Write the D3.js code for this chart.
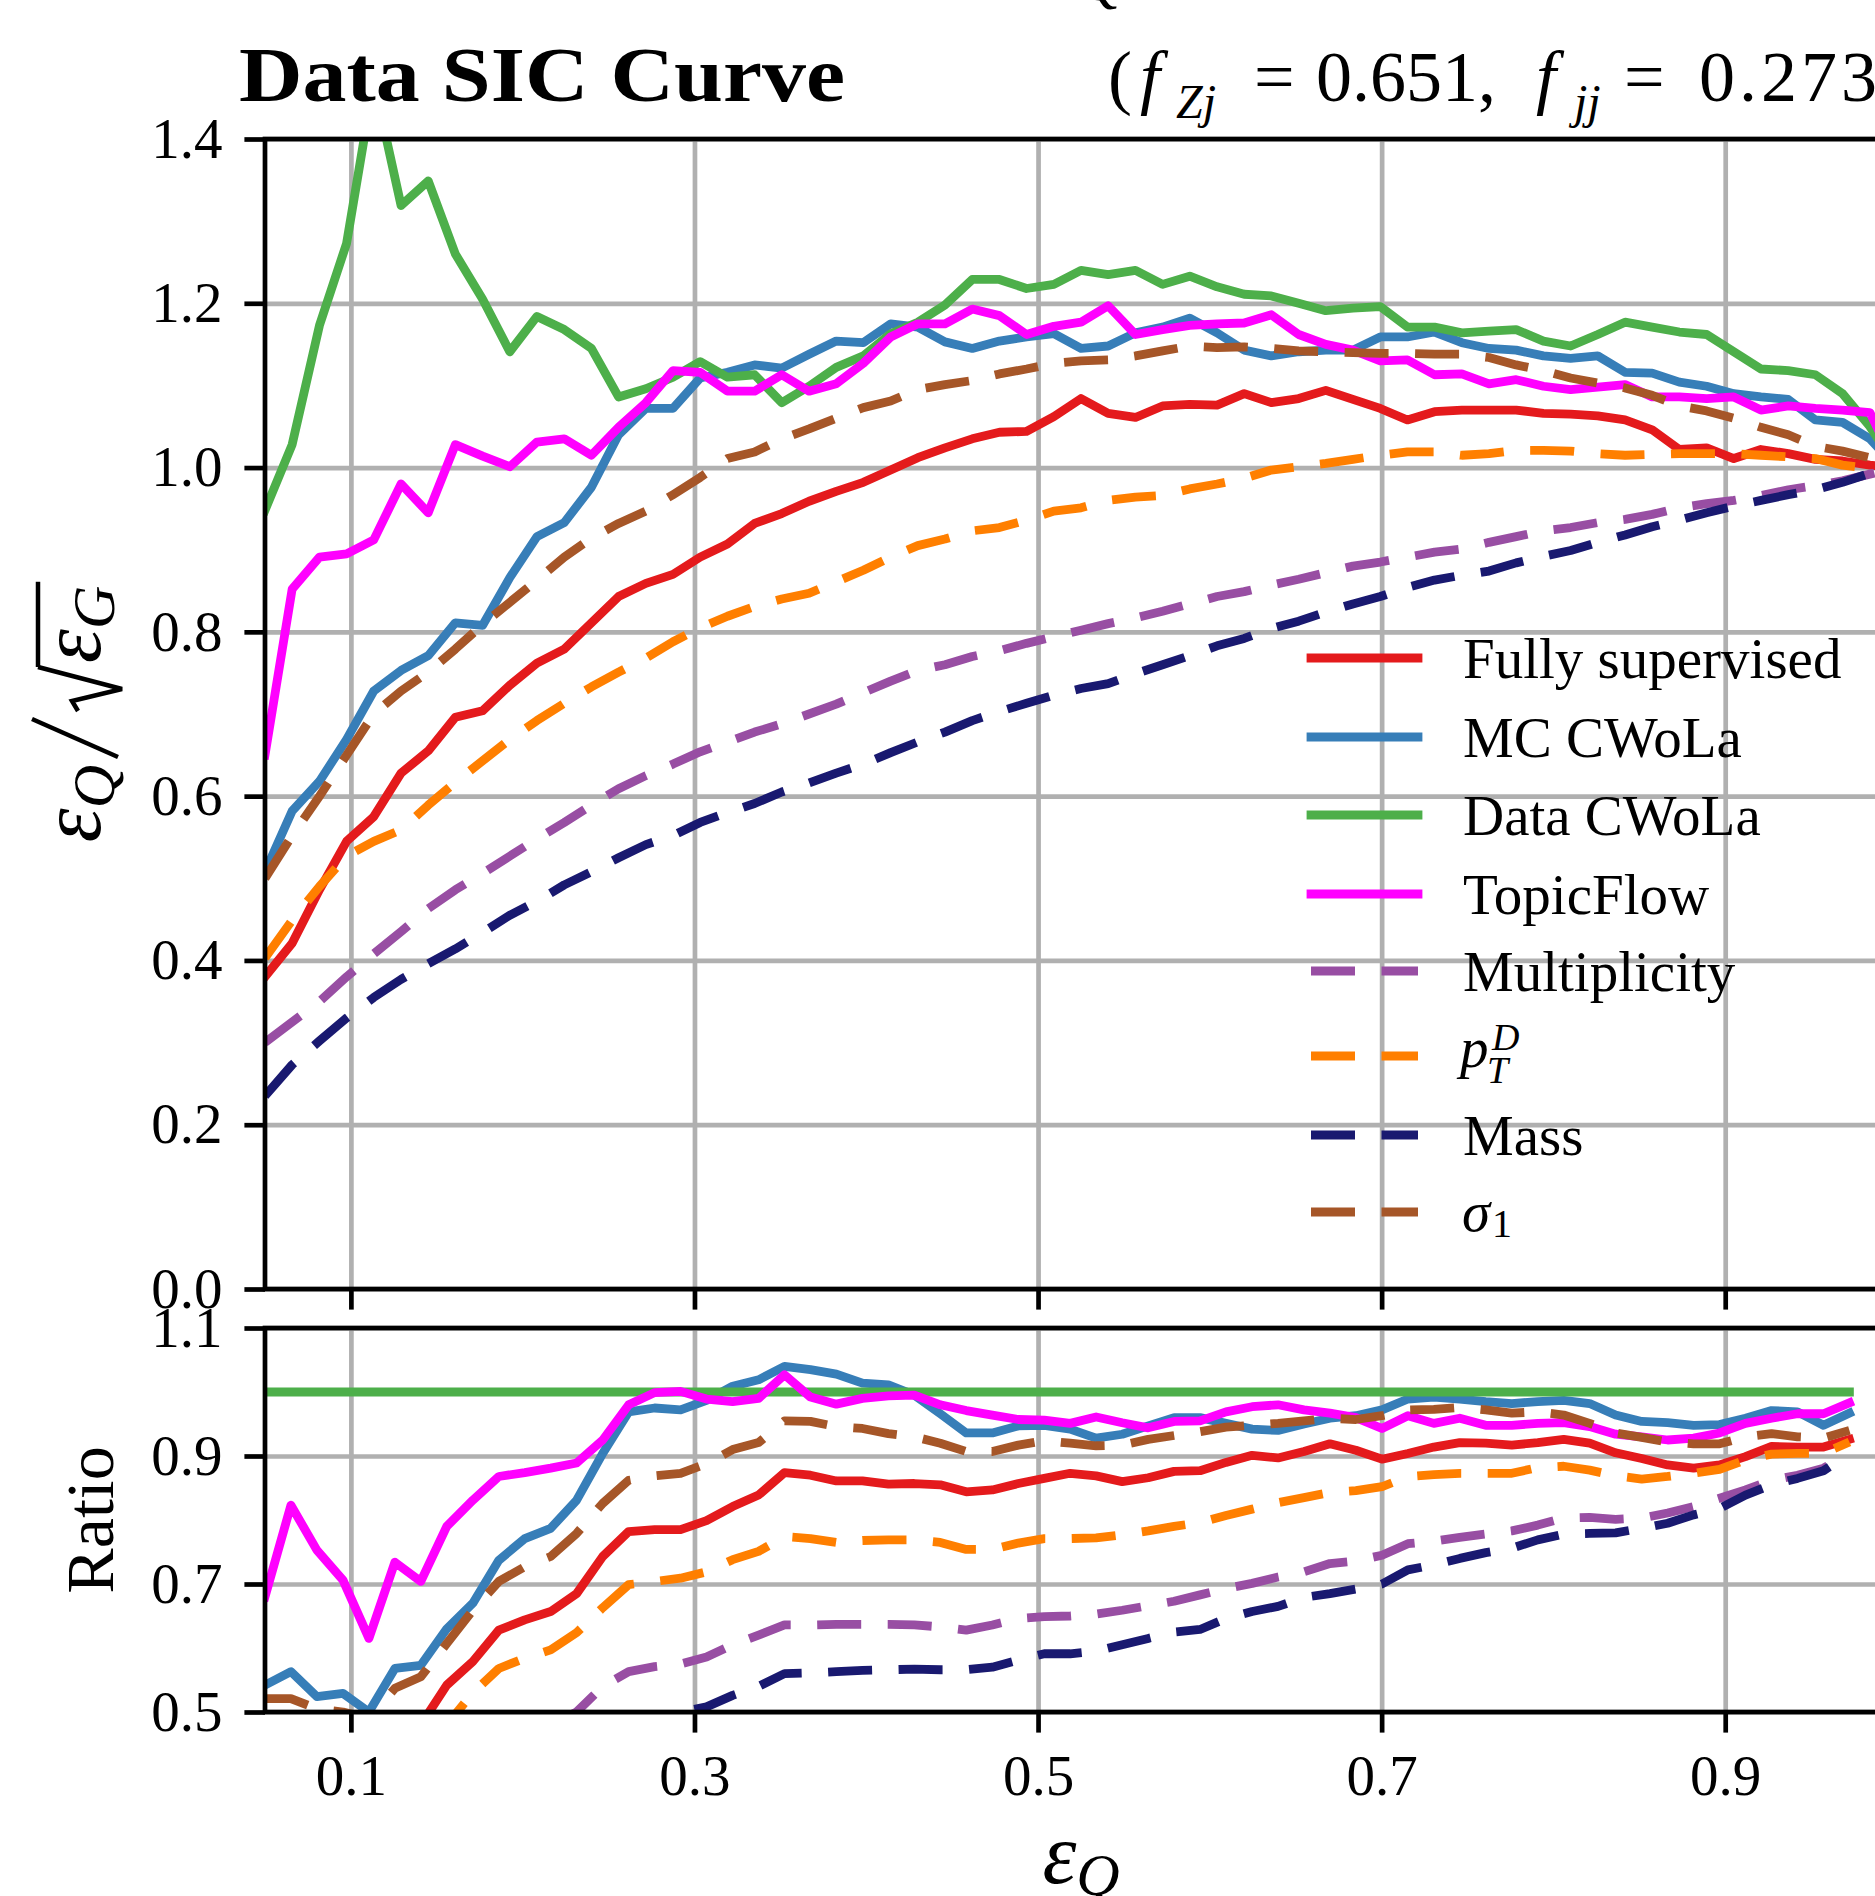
<!DOCTYPE html>
<html lang="en">
<head>
<meta charset="UTF-8" />
<title>Data SIC Curve</title>
<script src="https://cdn.jsdelivr.net/npm/d3@7/dist/d3.min.js"></script>
<style>
  body { margin: 0; background: #fff; }
  svg { display: block; }
</style>
</head>
<body>
<svg width="1875" height="1896"></svg>
<script>
// eps_Q values where the SIC curves were evaluated
var epsMain = [0.0500, 0.0658, 0.0817, 0.0975, 0.1133, 0.1292, 0.1450, 0.1608, 0.1767, 0.1925,
  0.2083, 0.2242, 0.2400, 0.2558, 0.2717, 0.2875, 0.3033, 0.3192, 0.3350, 0.3508,
  0.3667, 0.3825, 0.3983, 0.4142, 0.4300, 0.4458, 0.4617, 0.4775, 0.4933, 0.5092,
  0.5250, 0.5408, 0.5567, 0.5725, 0.5883, 0.6042, 0.6200, 0.6358, 0.6517, 0.6675,
  0.6833, 0.6992, 0.7150, 0.7308, 0.7467, 0.7625, 0.7783, 0.7942, 0.8100, 0.8258,
  0.8417, 0.8575, 0.8733, 0.8892, 0.9050, 0.9208, 0.9367, 0.9525, 0.9683, 0.9842, 1.0000];

// eps_Q values of the ratio panel
var epsRatio = [0.0500, 0.0651, 0.0802, 0.0954, 0.1105, 0.1256, 0.1407, 0.1558, 0.1710, 0.1861,
  0.2012, 0.2163, 0.2314, 0.2466, 0.2617, 0.2768, 0.2919, 0.3070, 0.3222, 0.3373,
  0.3524, 0.3675, 0.3826, 0.3978, 0.4129, 0.4280, 0.4431, 0.4582, 0.4734, 0.4885,
  0.5036, 0.5187, 0.5338, 0.5490, 0.5641, 0.5792, 0.5943, 0.6094, 0.6246, 0.6397,
  0.6548, 0.6699, 0.6850, 0.7002, 0.7153, 0.7304, 0.7455, 0.7606, 0.7758, 0.7909,
  0.8060, 0.8211, 0.8362, 0.8514, 0.8665, 0.8816, 0.8967, 0.9118, 0.9270, 0.9421,
  0.9572, 0.9723];

// SIC = eps_Q / sqrt(eps_G)
var fullySup = [0.380, 0.421, 0.486, 0.545, 0.575, 0.628, 0.655, 0.696, 0.704, 0.735,
  0.762, 0.779, 0.811, 0.843, 0.859, 0.870, 0.891, 0.907, 0.932, 0.944,
  0.959, 0.971, 0.982, 0.997, 1.012, 1.024, 1.035, 1.043, 1.044, 1.062,
  1.084, 1.066, 1.061, 1.075, 1.077, 1.076, 1.090, 1.079, 1.084, 1.094,
  1.083, 1.072, 1.058, 1.068, 1.070, 1.070, 1.070, 1.066, 1.065, 1.063,
  1.058, 1.046, 1.022, 1.024, 1.011, 1.022, 1.017, 1.010, 1.008, 1.003, 1.000];
var mcCwola = [0.508, 0.582, 0.618, 0.669, 0.728, 0.753, 0.771, 0.811, 0.808, 0.866,
  0.916, 0.933, 0.976, 1.040, 1.072, 1.072, 1.109, 1.116, 1.125, 1.121,
  1.138, 1.154, 1.152, 1.175, 1.171, 1.153, 1.145, 1.154, 1.159, 1.163,
  1.145, 1.148, 1.164, 1.171, 1.182, 1.164, 1.143, 1.136, 1.141, 1.143,
  1.143, 1.159, 1.159, 1.165, 1.152, 1.145, 1.143, 1.136, 1.133, 1.136,
  1.116, 1.115, 1.104, 1.099, 1.090, 1.086, 1.083, 1.058, 1.055, 1.035, 1.000];
var dataCwola = [0.948, 1.028, 1.173, 1.273, 1.470, 1.319, 1.349, 1.260, 1.205, 1.141,
  1.184, 1.168, 1.145, 1.086, 1.096, 1.110, 1.129, 1.110, 1.113, 1.079,
  1.099, 1.122, 1.136, 1.163, 1.177, 1.198, 1.229, 1.229, 1.218, 1.223,
  1.240, 1.235, 1.240, 1.223, 1.233, 1.220, 1.211, 1.209, 1.200, 1.191,
  1.194, 1.196, 1.171, 1.171, 1.164, 1.166, 1.168, 1.154, 1.148, 1.162,
  1.177, 1.171, 1.165, 1.162, 1.141, 1.120, 1.118, 1.113, 1.090, 1.050, 1.000];
var topicFlow = [0.650, 0.852, 0.891, 0.895, 0.912, 0.980, 0.945, 1.028, 1.014, 1.001,
  1.031, 1.035, 1.015, 1.049, 1.079, 1.118, 1.116, 1.093, 1.093, 1.113,
  1.093, 1.102, 1.127, 1.159, 1.175, 1.175, 1.193, 1.185, 1.162, 1.172,
  1.177, 1.197, 1.162, 1.168, 1.173, 1.175, 1.176, 1.186, 1.162, 1.150,
  1.143, 1.130, 1.131, 1.113, 1.114, 1.102, 1.107, 1.099, 1.095, 1.098,
  1.101, 1.086, 1.086, 1.084, 1.086, 1.070, 1.075, 1.072, 1.070, 1.067, 1.000];
var multiplicity = [0.300, 0.325, 0.350, 0.380, 0.408, 0.435, 0.463, 0.486, 0.506, 0.527,
  0.548, 0.568, 0.589, 0.609, 0.625, 0.639, 0.654, 0.666, 0.678, 0.688,
  0.700, 0.712, 0.726, 0.740, 0.753, 0.760, 0.770, 0.777, 0.786, 0.794,
  0.802, 0.810, 0.817, 0.825, 0.834, 0.843, 0.849, 0.857, 0.864, 0.872,
  0.880, 0.885, 0.891, 0.897, 0.901, 0.909, 0.916, 0.923, 0.927, 0.933,
  0.937, 0.943, 0.951, 0.956, 0.960, 0.966, 0.973, 0.978, 0.984, 0.992, 1.000];
var ptD = [0.403, 0.449, 0.490, 0.527, 0.545, 0.559, 0.589, 0.617, 0.643, 0.669,
  0.692, 0.713, 0.733, 0.751, 0.768, 0.788, 0.805, 0.819, 0.831, 0.840,
  0.847, 0.861, 0.875, 0.891, 0.905, 0.913, 0.923, 0.927, 0.936, 0.947,
  0.951, 0.960, 0.964, 0.966, 0.974, 0.980, 0.987, 0.997, 1.001, 1.005,
  1.010, 1.015, 1.019, 1.019, 1.015, 1.017, 1.021, 1.021, 1.020, 1.017,
  1.015, 1.016, 1.017, 1.017, 1.017, 1.015, 1.013, 1.011, 1.003, 0.999, 1.000];
var mass = [0.235, 0.273, 0.302, 0.330, 0.355, 0.377, 0.396, 0.414, 0.434, 0.455,
  0.472, 0.492, 0.508, 0.525, 0.541, 0.552, 0.568, 0.580, 0.591, 0.605,
  0.616, 0.628, 0.639, 0.653, 0.666, 0.678, 0.692, 0.703, 0.713, 0.723,
  0.731, 0.737, 0.749, 0.760, 0.771, 0.783, 0.792, 0.804, 0.813, 0.824,
  0.834, 0.843, 0.854, 0.863, 0.869, 0.874, 0.884, 0.892, 0.899, 0.909,
  0.918, 0.928, 0.936, 0.945, 0.953, 0.960, 0.967, 0.973, 0.982, 0.993, 1.000];
var sigma1 = [0.500, 0.552, 0.600, 0.650, 0.700, 0.728, 0.751, 0.779, 0.809, 0.836,
  0.863, 0.891, 0.914, 0.932, 0.947, 0.967, 0.988, 1.011, 1.019, 1.035,
  1.047, 1.060, 1.073, 1.081, 1.095, 1.101, 1.106, 1.114, 1.120, 1.127,
  1.130, 1.131, 1.136, 1.142, 1.148, 1.146, 1.147, 1.145, 1.142, 1.141,
  1.140, 1.139, 1.139, 1.138, 1.138, 1.134, 1.125, 1.118, 1.109, 1.103,
  1.097, 1.088, 1.075, 1.069, 1.060, 1.049, 1.040, 1.026, 1.020, 1.012, 1.000];

// ratio to Data CWoLa (values below 0.5 sit under the panel)
var ratioFullySup = [0.40, 0.41, 0.41, 0.43, 0.39, 0.46, 0.48, 0.542, 0.579, 0.628,
  0.644, 0.657, 0.685, 0.743, 0.782, 0.785, 0.785, 0.799, 0.821, 0.839,
  0.874, 0.870, 0.861, 0.861, 0.856, 0.857, 0.855, 0.844, 0.847, 0.857,
  0.865, 0.873, 0.869, 0.860, 0.866, 0.876, 0.877, 0.890, 0.901, 0.897,
  0.907, 0.919, 0.909, 0.895, 0.904, 0.914, 0.921, 0.920, 0.917, 0.921,
  0.926, 0.920, 0.905, 0.896, 0.886, 0.881, 0.886, 0.899, 0.915, 0.914,
  0.914, 0.926];
var ratioMcCwola = [0.542, 0.563, 0.524, 0.529, 0.500, 0.568, 0.573, 0.630, 0.670, 0.737,
  0.771, 0.787, 0.831, 0.904, 0.969, 0.975, 0.972, 0.987, 1.009, 1.019,
  1.040, 1.035, 1.028, 1.014, 1.011, 0.995, 0.966, 0.936, 0.936, 0.947,
  0.948, 0.942, 0.928, 0.934, 0.947, 0.960, 0.960, 0.951, 0.942, 0.940,
  0.950, 0.959, 0.963, 0.972, 0.989, 0.992, 0.989, 0.985, 0.982, 0.985,
  0.987, 0.982, 0.964, 0.954, 0.952, 0.948, 0.949, 0.959, 0.971, 0.969,
  0.948, 0.967];
var ratioDataCwola = [1, 1, 1, 1, 1, 1, 1, 1, 1, 1, 1, 1, 1, 1, 1, 1, 1, 1, 1, 1,
  1, 1, 1, 1, 1, 1, 1, 1, 1, 1, 1, 1, 1, 1, 1, 1, 1, 1, 1, 1,
  1, 1, 1, 1, 1, 1, 1, 1, 1, 1, 1, 1, 1, 1, 1, 1, 1, 1, 1, 1, 1, 1];
var ratioTopicFlow = [0.680, 0.823, 0.753, 0.706, 0.615, 0.734, 0.704, 0.790, 0.831, 0.868,
  0.874, 0.881, 0.889, 0.925, 0.980, 0.999, 1.001, 0.989, 0.985, 0.990,
  1.027, 0.992, 0.981, 0.990, 0.994, 0.995, 0.980, 0.971, 0.964, 0.957,
  0.956, 0.951, 0.961, 0.952, 0.944, 0.954, 0.955, 0.969, 0.977, 0.980,
  0.972, 0.967, 0.960, 0.943, 0.963, 0.951, 0.959, 0.948, 0.948, 0.951,
  0.952, 0.946, 0.934, 0.930, 0.925, 0.928, 0.936, 0.951, 0.959, 0.966,
  0.966, 0.983];
var ratioMultiplicity = [0.32, 0.32, 0.30, 0.30, 0.28, 0.33, 0.34, 0.39, 0.42, 0.46,
  0.46, 0.48, 0.500, 0.540, 0.563, 0.571, 0.575, 0.586, 0.605, 0.620,
  0.636, 0.636, 0.637, 0.637, 0.637, 0.636, 0.633, 0.628, 0.636, 0.646,
  0.649, 0.650, 0.653, 0.659, 0.666, 0.673, 0.683, 0.693, 0.701, 0.711,
  0.719, 0.732, 0.736, 0.745, 0.763, 0.767, 0.773, 0.778, 0.783, 0.792,
  0.803, 0.804, 0.801, 0.803, 0.811, 0.821, 0.834, 0.847, 0.862, 0.870,
  0.881, 0.903];
var ratioPtD = [0.42, 0.44, 0.42, 0.41, 0.37, 0.42, 0.44, 0.48, 0.530, 0.568,
  0.584, 0.597, 0.624, 0.663, 0.699, 0.704, 0.709, 0.719, 0.738, 0.751,
  0.774, 0.771, 0.765, 0.768, 0.769, 0.769, 0.765, 0.754, 0.754, 0.764,
  0.771, 0.771, 0.772, 0.777, 0.783, 0.790, 0.796, 0.807, 0.817, 0.827,
  0.835, 0.843, 0.846, 0.852, 0.868, 0.871, 0.873, 0.873, 0.873, 0.882,
  0.884, 0.878, 0.869, 0.864, 0.868, 0.873, 0.879, 0.894, 0.903, 0.904,
  0.904, 0.922];
var ratioMass = [0.25, 0.27, 0.26, 0.26, 0.24, 0.29, 0.29, 0.33, 0.36, 0.40,
  0.40, 0.42, 0.44, 0.47, 0.48, 0.49, 0.500, 0.508, 0.526, 0.540,
  0.560, 0.561, 0.563, 0.565, 0.566, 0.567, 0.566, 0.566, 0.570, 0.581,
  0.591, 0.591, 0.595, 0.605, 0.615, 0.625, 0.629, 0.646, 0.657, 0.665,
  0.679, 0.685, 0.692, 0.700, 0.722, 0.730, 0.740, 0.749, 0.756, 0.769,
  0.778, 0.779, 0.780, 0.787, 0.795, 0.808, 0.818, 0.839, 0.855, 0.865,
  0.877, 0.904];
var ratioSigma1 = [0.521, 0.521, 0.505, 0.500, 0.490, 0.537, 0.555, 0.607, 0.659, 0.704,
  0.727, 0.743, 0.779, 0.826, 0.862, 0.869, 0.873, 0.888, 0.910, 0.921,
  0.955, 0.954, 0.946, 0.943, 0.935, 0.930, 0.920, 0.907, 0.907, 0.917,
  0.924, 0.920, 0.916, 0.917, 0.926, 0.932, 0.938, 0.945, 0.948, 0.951,
  0.955, 0.959, 0.957, 0.963, 0.972, 0.973, 0.976, 0.972, 0.967, 0.969,
  0.964, 0.951, 0.936, 0.929, 0.922, 0.919, 0.919, 0.930, 0.935, 0.930,
  0.928, 0.940];

var xTicks = [0.1, 0.3, 0.5, 0.7, 0.9];
var mainYTicks = [0, 0.2, 0.4, 0.6, 0.8, 1.0, 1.2, 1.4];
var ratioYTicks = [0.5, 0.7, 0.9, 1.1];
var seriesNames = ["Fully supervised", "MC CWoLa", "Data CWoLa", "TopicFlow",
  "Multiplicity", "pTD", "Mass", "sigma1"];

var series = [
  { name: seriesNames[0], main: fullySup, ratio: ratioFullySup, color: "#e41a1c", dashed: false },
  { name: seriesNames[1], main: mcCwola, ratio: ratioMcCwola, color: "#377eb8", dashed: false },
  { name: seriesNames[2], main: dataCwola, ratio: ratioDataCwola, color: "#4daf4a", dashed: false },
  { name: seriesNames[3], main: topicFlow, ratio: ratioTopicFlow, color: "#ff00ff", dashed: false },
  { name: seriesNames[4], main: multiplicity, ratio: ratioMultiplicity, color: "#984ea3", dashed: true },
  { name: seriesNames[5], main: ptD, ratio: ratioPtD, color: "#ff7f00", dashed: true },
  { name: seriesNames[6], main: mass, ratio: ratioMass, color: "#191970", dashed: true },
  { name: seriesNames[7], main: sigma1, ratio: ratioSigma1, color: "#a65628", dashed: true }
];

var svg = d3.select("svg");
var FONT = "'Liberation Serif', 'Times New Roman', serif";
var left = 265, right = 1897;
var mainTop = 139, mainBottom = 1289;
var ratioTop = 1328, ratioBottom = 1712;
var lw = 8.8, thin = 4.7, tickLen = 20.6;
var dash = "44 26.5";

var x = d3.scaleLinear().domain([0.05, 1.0]).range([left, right]);
var yMain = d3.scaleLinear().domain([0, 1.4]).range([mainBottom, mainTop]);
var yRatio = d3.scaleLinear().domain([0.5, 1.1]).range([ratioBottom, ratioTop]);

var defs = svg.append("defs");
defs.append("clipPath").attr("id", "clipMain").append("rect")
  .attr("x", left).attr("y", mainTop).attr("width", right - left).attr("height", mainBottom - mainTop);
defs.append("clipPath").attr("id", "clipRatio").append("rect")
  .attr("x", left).attr("y", ratioTop).attr("width", right - left).attr("height", ratioBottom - ratioTop);

function grid(yScale, yTicks, top, bottom) {
  var g = svg.append("g");
  g.append("g").attr("transform", "translate(0," + bottom + ")")
    .call(d3.axisBottom(x).tickValues(xTicks).tickSize(-(bottom - top)).tickFormat(""))
    .call(function (s) { s.select(".domain").remove(); });
  g.append("g").attr("transform", "translate(" + left + ",0)")
    .call(d3.axisLeft(yScale).tickValues(yTicks).tickSize(-(right - left)).tickFormat(""))
    .call(function (s) { s.select(".domain").remove(); });
  g.selectAll("line").attr("stroke", "#b0b0b0").attr("stroke-width", thin);
}

function styleAxis(sel) {
  sel.select(".domain").remove();
  sel.attr("font-family", FONT).attr("font-size", 57);
  sel.selectAll(".tick line").attr("stroke", "#000").attr("stroke-width", thin);
  sel.selectAll(".tick text").attr("fill", "#000");
}

grid(yMain, mainYTicks, mainTop, mainBottom);
grid(yRatio, ratioYTicks, ratioTop, ratioBottom);

// curves
var mainLine = d3.line().x(function (d, i) { return x(epsMain[i]); }).y(function (d) { return yMain(d); });
var ratioLine = d3.line().x(function (d, i) { return x(epsRatio[i]); }).y(function (d) { return yRatio(d); });

function drawCurves(clipId, key, lineGen) {
  var g = svg.append("g").attr("clip-path", "url(#" + clipId + ")");
  series.forEach(function (s) {
    g.append("path")
      .attr("d", lineGen(s[key]))
      .attr("fill", "none")
      .attr("stroke", s.color)
      .attr("stroke-width", lw)
      .attr("stroke-linejoin", "round")
      .attr("stroke-linecap", s.dashed ? "butt" : "square")
      .attr("stroke-dasharray", s.dashed ? dash : null);
  });
}
drawCurves("clipMain", "main", mainLine);
drawCurves("clipRatio", "ratio", ratioLine);

// axes and ticks
svg.append("g").attr("transform", "translate(" + left + ",0)")
  .call(d3.axisLeft(yMain).tickValues(mainYTicks).tickSize(tickLen).tickPadding(22).tickFormat(d3.format(".1f")))
  .call(styleAxis);
svg.append("g").attr("transform", "translate(" + left + ",0)")
  .call(d3.axisLeft(yRatio).tickValues(ratioYTicks).tickSize(tickLen).tickPadding(22).tickFormat(d3.format(".1f")))
  .call(styleAxis);
svg.append("g").attr("transform", "translate(0," + mainBottom + ")")
  .call(d3.axisBottom(x).tickValues(xTicks).tickSize(tickLen).tickFormat(""))
  .call(styleAxis);
svg.append("g").attr("transform", "translate(0," + ratioBottom + ")")
  .call(d3.axisBottom(x).tickValues(xTicks).tickSize(tickLen).tickPadding(22).tickFormat(d3.format(".1f")))
  .call(styleAxis);

// spines
[[mainTop, mainBottom], [ratioTop, ratioBottom]].forEach(function (p) {
  svg.append("rect")
    .attr("x", left).attr("y", p[0])
    .attr("width", right - left).attr("height", p[1] - p[0])
    .attr("fill", "none").attr("stroke", "#000").attr("stroke-width", thin);
});

// legend (no frame)
var legRows = [658, 737, 815, 894, 971, 1056, 1135, 1212];
var leg = svg.append("g").attr("font-family", FONT).attr("font-size", 57);
series.forEach(function (s, i) {
  var y = legRows[i];
  leg.append("line")
    .attr("x1", 1311).attr("x2", 1418).attr("y1", y).attr("y2", y)
    .attr("stroke", s.color).attr("stroke-width", lw)
    .attr("stroke-linecap", s.dashed ? "butt" : "square")
    .attr("stroke-dasharray", s.dashed ? dash : null);
  if (s.name === "pTD") {
    leg.append("text").attr("x", 1460).attr("y", y + 11).attr("font-style", "italic").text("p");
    leg.append("text").attr("x", 1487).attr("y", y + 27).attr("font-style", "italic").attr("font-size", 38).text("T");
    leg.append("text").attr("x", 1492).attr("y", y - 6).attr("font-style", "italic").attr("font-size", 38).text("D");
  } else if (s.name === "sigma1") {
    leg.append("text").attr("x", 1462).attr("y", y + 19).attr("font-style", "italic").text("σ");
    leg.append("text").attr("x", 1492).attr("y", y + 25).attr("font-size", 40).text("1");
  } else {
    leg.append("text").attr("x", 1463).attr("y", y + 20).text(s.name);
  }
});

// titles
svg.append("text")
  .attr("x", 239).attr("y", 101)
  .attr("font-family", FONT).attr("font-size", 78).attr("font-weight", "bold")
  .attr("textLength", 606).attr("lengthAdjust", "spacingAndGlyphs")
  .text("Data SIC Curve");

var rt = svg.append("g").attr("font-family", FONT).attr("font-size", 72);
rt.append("text").attr("x", 1108).attr("y", 101).text("(");
rt.append("text").attr("x", 1140).attr("y", 101).attr("font-style", "italic").text("f");
rt.append("text").attr("x", 1176).attr("y", 118).attr("font-style", "italic").attr("font-size", 48).text("Zj");
rt.append("text").attr("x", 1254).attr("y", 101).text("=");
rt.append("text").attr("x", 1316).attr("y", 101).text("0.651,");
rt.append("text").attr("x", 1536).attr("y", 101).attr("font-style", "italic").text("f");
rt.append("text").attr("x", 1574).attr("y", 118).attr("font-style", "italic").attr("font-size", 48).text("jj");
rt.append("text").attr("x", 1624).attr("y", 101).text("=");
rt.append("text").attr("x", 1699).attr("y", 101).attr("textLength", 178).text("0.273");

// bottom of a line of text cut off above the figure
svg.append("text").attr("x", 1080).attr("y", 0)
  .attr("font-family", FONT).attr("font-size", 60).attr("font-style", "italic").text("Q");

// axis labels
function mathRow(g, parts) {
  var cx = 0;
  parts.forEach(function (p) {
    cx += p.gap || 0;
    if (p.path) {
      g.append("path").attr("d", p.path(cx)).attr("fill", "none")
        .attr("stroke", "#000").attr("stroke-width", 4.5).attr("stroke-linejoin", "miter");
      cx += p.width;
      return;
    }
    var t = g.append("text").attr("x", cx).attr("y", p.dy || 0)
      .attr("font-family", FONT).attr("font-size", p.size)
      .attr("font-style", p.italic ? "italic" : null).text(p.t);
    cx += t.node().getComputedTextLength();
  });
  return cx;
}

// y label: eps_Q / sqrt(eps_G)
var yl = svg.append("g").attr("transform", "translate(100,714) rotate(-90)");
var ylIn = yl.append("g");
var radStart = 0;
var ylW = mathRow(ylIn, [
  { t: "ε", size: 86, italic: true },
  { t: "Q", size: 60, italic: true, dy: 14 },
  { gap: 8, width: 38, path: function (c) { return "M" + c + ",18 L" + (c + 38) + ",-68"; } },
  { gap: 8, width: 44, path: function (c) { radStart = c; return "M" + c + ",-22 L" + (c + 10) + ",-28 L" + (c + 22) + ",22 L" + (c + 44) + ",-62"; } },
  { t: "ε", size: 86, italic: true, gap: 4 },
  { t: "G", size: 60, italic: true, dy: 14 }
]);
ylIn.append("line").attr("x1", radStart + 44).attr("x2", ylW + 4).attr("y1", -62).attr("y2", -62)
  .attr("stroke", "#000").attr("stroke-width", 4.5);
ylIn.attr("transform", "translate(" + (-ylW / 2) + ",0)");

svg.append("text")
  .attr("transform", "translate(113,1520) rotate(-90)")
  .attr("text-anchor", "middle")
  .attr("font-family", FONT).attr("font-size", 68)
  .text("Ratio");

// x label: eps_Q
var xl = svg.append("g").attr("transform", "translate(1081,1883)");
var xlIn = xl.append("g");
var xlW = mathRow(xlIn, [
  { t: "ε", size: 86, italic: true },
  { t: "Q", size: 60, italic: true, dy: 12 }
]);
xlIn.attr("transform", "translate(" + (-xlW / 2) + ",0)");
</script>
</body>
</html>
